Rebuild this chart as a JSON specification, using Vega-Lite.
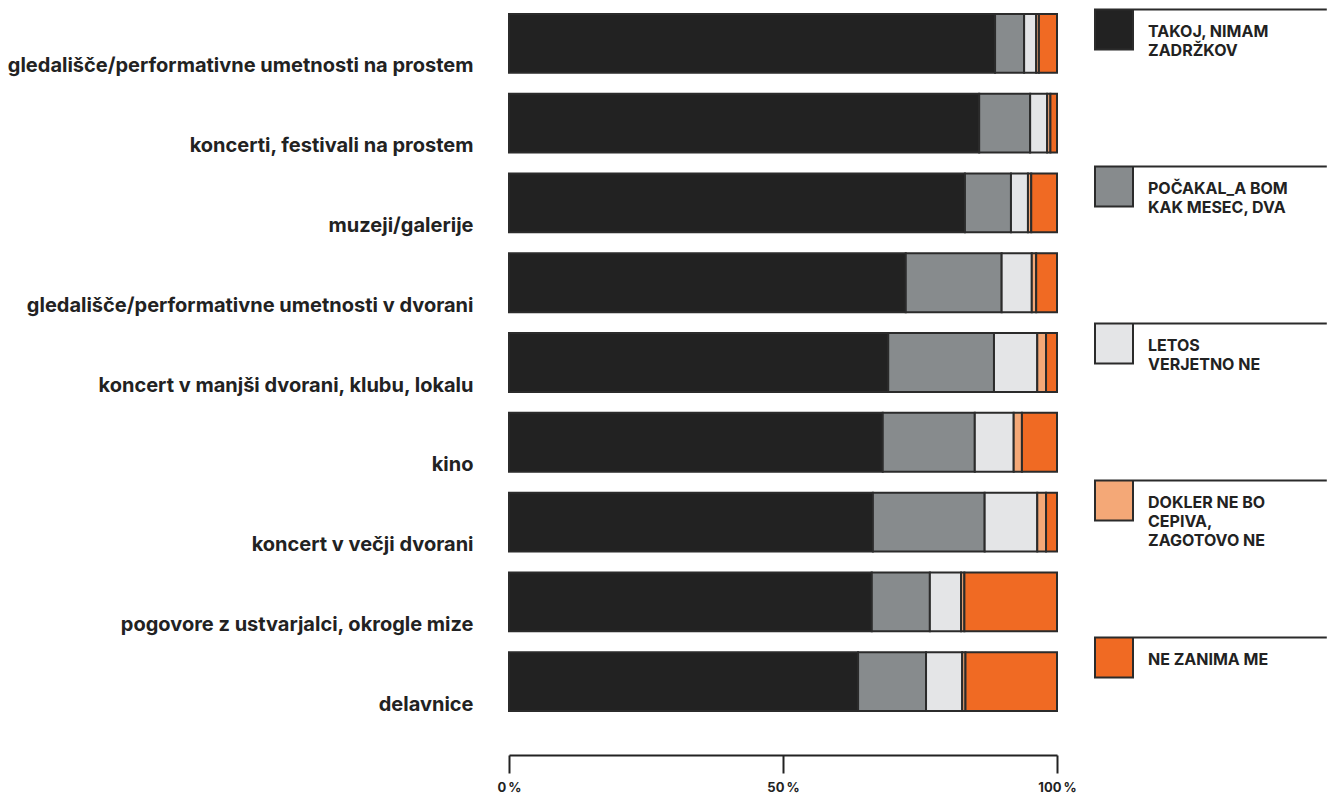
{
  "$schema": "https://vega.github.io/schema/vega-lite/v6.json",
  "autosize": {"type": "none"},
  "width": 548,
  "height": 718,
  "padding": {"left": 509, "top": 3.5, "right": 270, "bottom": 72.5},
  "background": "#ffffff",
  "data": {
    "values": [
      {"dogodek": "gledališče/performativne umetnosti na prostem", "odgovor": "TAKOJ, NIMAM ZADRŽKOV", "rang": 1, "delez": 88.7},
      {"dogodek": "gledališče/performativne umetnosti na prostem", "odgovor": "POČAKAL_A BOM KAK MESEC, DVA", "rang": 2, "delez": 5.3},
      {"dogodek": "gledališče/performativne umetnosti na prostem", "odgovor": "LETOS VERJETNO NE", "rang": 3, "delez": 2.2},
      {"dogodek": "gledališče/performativne umetnosti na prostem", "odgovor": "DOKLER NE BO CEPIVA, ZAGOTOVO NE", "rang": 4, "delez": 0.5},
      {"dogodek": "gledališče/performativne umetnosti na prostem", "odgovor": "NE ZANIMA ME", "rang": 5, "delez": 3.3},
      {"dogodek": "koncerti, festivali na prostem", "odgovor": "TAKOJ, NIMAM ZADRŽKOV", "rang": 1, "delez": 85.8},
      {"dogodek": "koncerti, festivali na prostem", "odgovor": "POČAKAL_A BOM KAK MESEC, DVA", "rang": 2, "delez": 9.3},
      {"dogodek": "koncerti, festivali na prostem", "odgovor": "LETOS VERJETNO NE", "rang": 3, "delez": 3.1},
      {"dogodek": "koncerti, festivali na prostem", "odgovor": "DOKLER NE BO CEPIVA, ZAGOTOVO NE", "rang": 4, "delez": 0.6},
      {"dogodek": "koncerti, festivali na prostem", "odgovor": "NE ZANIMA ME", "rang": 5, "delez": 1.2},
      {"dogodek": "muzeji/galerije", "odgovor": "TAKOJ, NIMAM ZADRŽKOV", "rang": 1, "delez": 83.2},
      {"dogodek": "muzeji/galerije", "odgovor": "POČAKAL_A BOM KAK MESEC, DVA", "rang": 2, "delez": 8.4},
      {"dogodek": "muzeji/galerije", "odgovor": "LETOS VERJETNO NE", "rang": 3, "delez": 3.1},
      {"dogodek": "muzeji/galerije", "odgovor": "DOKLER NE BO CEPIVA, ZAGOTOVO NE", "rang": 4, "delez": 0.6},
      {"dogodek": "muzeji/galerije", "odgovor": "NE ZANIMA ME", "rang": 5, "delez": 4.7},
      {"dogodek": "gledališče/performativne umetnosti v dvorani", "odgovor": "TAKOJ, NIMAM ZADRŽKOV", "rang": 1, "delez": 72.4},
      {"dogodek": "gledališče/performativne umetnosti v dvorani", "odgovor": "POČAKAL_A BOM KAK MESEC, DVA", "rang": 2, "delez": 17.5},
      {"dogodek": "gledališče/performativne umetnosti v dvorani", "odgovor": "LETOS VERJETNO NE", "rang": 3, "delez": 5.5},
      {"dogodek": "gledališče/performativne umetnosti v dvorani", "odgovor": "DOKLER NE BO CEPIVA, ZAGOTOVO NE", "rang": 4, "delez": 0.8},
      {"dogodek": "gledališče/performativne umetnosti v dvorani", "odgovor": "NE ZANIMA ME", "rang": 5, "delez": 3.8},
      {"dogodek": "koncert v manjši dvorani, klubu, lokalu", "odgovor": "TAKOJ, NIMAM ZADRŽKOV", "rang": 1, "delez": 69.2},
      {"dogodek": "koncert v manjši dvorani, klubu, lokalu", "odgovor": "POČAKAL_A BOM KAK MESEC, DVA", "rang": 2, "delez": 19.3},
      {"dogodek": "koncert v manjši dvorani, klubu, lokalu", "odgovor": "LETOS VERJETNO NE", "rang": 3, "delez": 7.9},
      {"dogodek": "koncert v manjši dvorani, klubu, lokalu", "odgovor": "DOKLER NE BO CEPIVA, ZAGOTOVO NE", "rang": 4, "delez": 1.6},
      {"dogodek": "koncert v manjši dvorani, klubu, lokalu", "odgovor": "NE ZANIMA ME", "rang": 5, "delez": 2.0},
      {"dogodek": "kino", "odgovor": "TAKOJ, NIMAM ZADRŽKOV", "rang": 1, "delez": 68.2},
      {"dogodek": "kino", "odgovor": "POČAKAL_A BOM KAK MESEC, DVA", "rang": 2, "delez": 16.8},
      {"dogodek": "kino", "odgovor": "LETOS VERJETNO NE", "rang": 3, "delez": 7.1},
      {"dogodek": "kino", "odgovor": "DOKLER NE BO CEPIVA, ZAGOTOVO NE", "rang": 4, "delez": 1.5},
      {"dogodek": "kino", "odgovor": "NE ZANIMA ME", "rang": 5, "delez": 6.4},
      {"dogodek": "koncert v večji dvorani", "odgovor": "TAKOJ, NIMAM ZADRŽKOV", "rang": 1, "delez": 66.4},
      {"dogodek": "koncert v večji dvorani", "odgovor": "POČAKAL_A BOM KAK MESEC, DVA", "rang": 2, "delez": 20.4},
      {"dogodek": "koncert v večji dvorani", "odgovor": "LETOS VERJETNO NE", "rang": 3, "delez": 9.6},
      {"dogodek": "koncert v večji dvorani", "odgovor": "DOKLER NE BO CEPIVA, ZAGOTOVO NE", "rang": 4, "delez": 1.6},
      {"dogodek": "koncert v večji dvorani", "odgovor": "NE ZANIMA ME", "rang": 5, "delez": 2.0},
      {"dogodek": "pogovore z ustvarjalci, okrogle mize", "odgovor": "TAKOJ, NIMAM ZADRŽKOV", "rang": 1, "delez": 66.2},
      {"dogodek": "pogovore z ustvarjalci, okrogle mize", "odgovor": "POČAKAL_A BOM KAK MESEC, DVA", "rang": 2, "delez": 10.6},
      {"dogodek": "pogovore z ustvarjalci, okrogle mize", "odgovor": "LETOS VERJETNO NE", "rang": 3, "delez": 5.7},
      {"dogodek": "pogovore z ustvarjalci, okrogle mize", "odgovor": "DOKLER NE BO CEPIVA, ZAGOTOVO NE", "rang": 4, "delez": 0.6},
      {"dogodek": "pogovore z ustvarjalci, okrogle mize", "odgovor": "NE ZANIMA ME", "rang": 5, "delez": 16.9},
      {"dogodek": "delavnice", "odgovor": "TAKOJ, NIMAM ZADRŽKOV", "rang": 1, "delez": 63.7},
      {"dogodek": "delavnice", "odgovor": "POČAKAL_A BOM KAK MESEC, DVA", "rang": 2, "delez": 12.4},
      {"dogodek": "delavnice", "odgovor": "LETOS VERJETNO NE", "rang": 3, "delez": 6.6},
      {"dogodek": "delavnice", "odgovor": "DOKLER NE BO CEPIVA, ZAGOTOVO NE", "rang": 4, "delez": 0.6},
      {"dogodek": "delavnice", "odgovor": "NE ZANIMA ME", "rang": 5, "delez": 16.7}
    ]
  },
  "mark": {"type": "bar", "stroke": "#2b2b2b", "strokeWidth": 2, "opacity": 1},
  "encoding": {
    "y": {
      "field": "dogodek",
      "type": "nominal",
      "sort": [
        "gledališče/performativne umetnosti na prostem",
        "koncerti, festivali na prostem",
        "muzeji/galerije",
        "gledališče/performativne umetnosti v dvorani",
        "koncert v manjši dvorani, klubu, lokalu",
        "kino",
        "koncert v večji dvorani",
        "pogovore z ustvarjalci, okrogle mize",
        "delavnice"
      ],
      "scale": {"paddingInner": 0.2625, "paddingOuter": 0.13125},
      "axis": {
        "title": null,
        "ticks": false,
        "domain": false,
        "labelPadding": 36,
        "labelOffset": 29,
        "labelBaseline": "alphabetic",
        "labelFont": "Inter",
        "labelFontSize": 20,
        "labelFontWeight": "bold",
        "labelColor": "#222222",
        "labelLimit": 700
      }
    },
    "x": {
      "field": "delez",
      "type": "quantitative",
      "stack": "zero",
      "scale": {"domain": [0, 100], "nice": false},
      "axis": {
        "title": null,
        "values": [0, 50, 100],
        "grid": false,
        "offset": 33.5,
        "domainColor": "#222222",
        "domainWidth": 2,
        "tickColor": "#222222",
        "tickWidth": 2,
        "tickSize": 18,
        "labelPadding": 8,
        "labelExpr": "datum.value + '\u2009%'",
        "labelFont": "Inter",
        "labelFontSize": 13,
        "labelFontWeight": "bold",
        "labelColor": "#222222",
        "labelFlush": false
      }
    },
    "order": {"field": "rang", "type": "ordinal", "sort": "ascending"},
    "color": {
      "field": "odgovor",
      "type": "nominal",
      "scale": {
        "domain": ["TAKOJ, NIMAM ZADRŽKOV", "POČAKAL_A BOM KAK MESEC, DVA", "LETOS VERJETNO NE", "DOKLER NE BO CEPIVA, ZAGOTOVO NE", "NE ZANIMA ME"],
        "range": ["#222222", "#878b8d", "#e4e5e7", "#f4a877", "#f06a23"]
      },
      "legend": {
        "title": null,
        "orient": "right",
        "offset": 37,
        "padding": 0,
        "symbolType": "M-1,-0.74H1V1.37H-1Z M1,-0.74H11.2",
        "symbolSize": 1444,
        "symbolStrokeColor": "#2b2b2b",
        "symbolStrokeWidth": 2,
        "symbolOpacity": 1,
        "labelFont": "Inter",
        "labelFontSize": 16,
        "labelFontWeight": "bold",
        "labelColor": "#222222",
        "labelBaseline": "top",
        "labelOffset": 14,
        "labelLimit": 300,
        "gridAlign": "all",
        "rowPadding": 83,
        "labelExpr": "datum.label == 'TAKOJ, NIMAM ZADRŽKOV' ? ['TAKOJ, NIMAM', 'ZADRŽKOV'] : datum.label == 'POČAKAL_A BOM KAK MESEC, DVA' ? ['POČAKAL_A BOM', 'KAK MESEC, DVA'] : datum.label == 'LETOS VERJETNO NE' ? ['LETOS', 'VERJETNO NE'] : datum.label == 'DOKLER NE BO CEPIVA, ZAGOTOVO NE' ? ['DOKLER NE BO', 'CEPIVA,', 'ZAGOTOVO NE'] : datum.label",
        "encode": {"labels": {"update": {"lineHeight": {"value": 19}}}}
      }
    }
  },
  "config": {
    "view": {"stroke": null},
    "font": "Inter"
  }
}
